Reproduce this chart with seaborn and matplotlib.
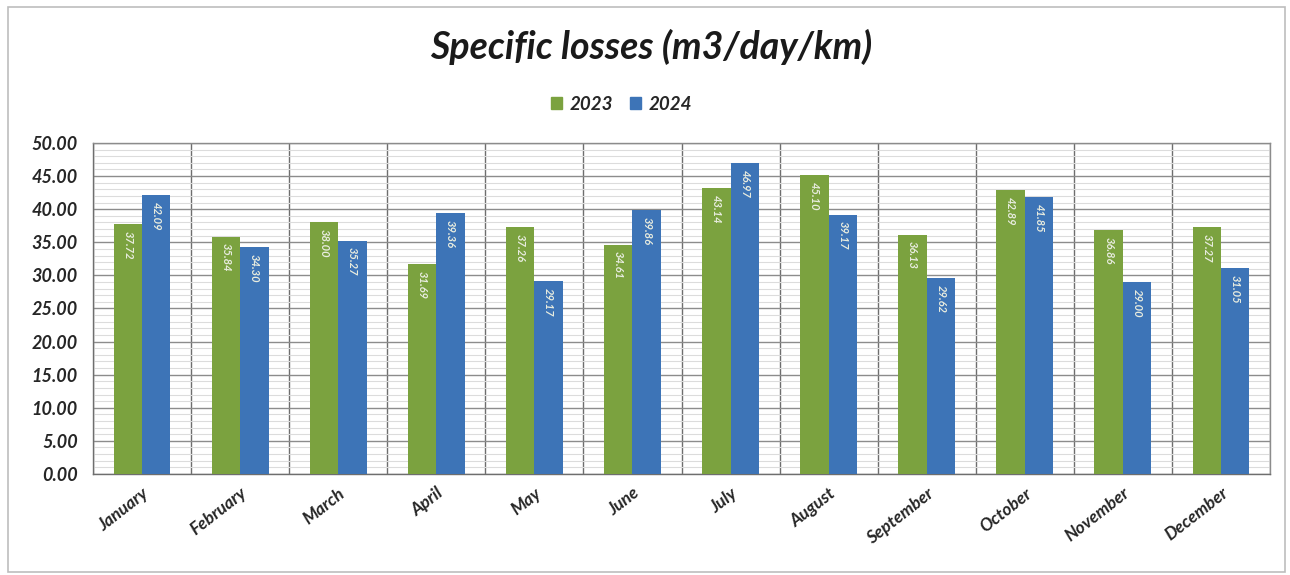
import matplotlib
matplotlib.use("Agg")
import matplotlib.pyplot as plt
import seaborn as sns
import pandas as pd
import numpy as np
from matplotlib.ticker import FixedLocator
from matplotlib.patches import Rectangle

months = ["January", "February", "March", "April", "May", "June",
          "July", "August", "September", "October", "November", "December"]
losses_2023 = [37.72, 35.84, 38.00, 31.69, 37.26, 34.61,
               43.14, 45.10, 36.13, 42.89, 36.86, 37.27]
losses_2024 = [42.09, 34.30, 35.27, 39.36, 29.17, 39.86,
               46.97, 39.17, 29.62, 41.85, 29.00, 31.05]
years = ["2023", "2024"]
colors = ["#7BA23F", "#3D74B7"]
y_ticks = [0, 5, 10, 15, 20, 25, 30, 35, 40, 45, 50]

df = pd.DataFrame({
    "Month": months * 2,
    "Year": [years[0]] * 12 + [years[1]] * 12,
    "Value": losses_2023 + losses_2024,
})

sns.set_theme(style="white")
plt.rcParams["font.family"] = ["Lato", "DejaVu Sans"]

fig = plt.figure(figsize=(12.9, 5.75), dpi=100)
ax = fig.add_axes([0.0721, 0.1757, 0.9124, 0.5756])

sns.barplot(data=df, x="Month", y="Value", hue="Year", order=months,
            hue_order=years, palette=colors, width=0.58, ax=ax,
            saturation=1, errorbar=None, legend=False, zorder=3,
            edgecolor="none", linewidth=0)

ax.set_xlim(-0.5, 11.5)
ax.set_ylim(0, 50)
ax.set_yticks(y_ticks)
ax.set_yticklabels([f"{v:.2f}" for v in y_ticks],
                   fontweight="bold", fontstyle="italic", fontsize=13)
ax.yaxis.set_minor_locator(FixedLocator(np.arange(0, 50.5, 1)))
ax.xaxis.set_minor_locator(FixedLocator(np.arange(-0.5, 12, 1)))
ax.set_xticks(range(12))
ax.set_xticklabels(months, rotation=38, ha="right", rotation_mode="anchor",
                   fontweight="bold", fontstyle="italic", fontsize=12.5)
ax.tick_params(axis="x", which="major", length=0, pad=8)
ax.tick_params(axis="x", which="minor", length=5, color="#7f7f7f", direction="out")
ax.tick_params(axis="y", which="major", length=5, color="#7f7f7f", direction="out", pad=6)
ax.tick_params(axis="y", which="minor", length=0)

ax.grid(which="major", axis="y", color="#8c8c8c", linewidth=1.0, zorder=0)
ax.grid(which="minor", axis="y", color="#dcdcdc", linewidth=0.8, zorder=0)
ax.grid(which="minor", axis="x", color="#6e6e6e", linewidth=1.0, zorder=0)
ax.set_axisbelow(True)
ax.set_xlabel("")
ax.set_ylabel("")
for side in ["top", "right"]:
    ax.spines[side].set_color("#8c8c8c")
    ax.spines[side].set_linewidth(1.0)
for side in ["left", "bottom"]:
    ax.spines[side].set_color("#6e6e6e")
    ax.spines[side].set_linewidth(1.0)

# value labels inside the top of each bar
for container in ax.containers:
    for bar in container:
        h = bar.get_height()
        ax.text(bar.get_x() + bar.get_width() / 2, h - 1.0, f"{h:.2f}",
                rotation=-90, ha="center", va="top", fontsize=8,
                color="#e8ecdf", fontweight="bold", fontstyle="italic", zorder=5)

fig.text(0.505, 0.918, "Specific losses (m3/day/km)", ha="center", va="center",
         fontsize=27, fontweight="bold", fontstyle="italic", color="#1a1a1a")

# legend
handles = [Rectangle((0, 0), 1, 1, color=c) for c in colors]
fig.legend(handles, years, loc="center", bbox_to_anchor=(0.482, 0.819), ncol=2,
           frameon=False, handlelength=0.6, handleheight=0.6, handletextpad=0.4,
           columnspacing=0.9, prop={"weight": "bold", "style": "italic", "size": 13.5})

# chart frame
fig.patches.append(Rectangle((8 / 1290, 3 / 575), 1277 / 1290, 565 / 575,
                             transform=fig.transFigure, fill=False,
                             edgecolor="#bdbdbd", linewidth=1.2))

fig.savefig("out.png", dpi=100, facecolor="white")
